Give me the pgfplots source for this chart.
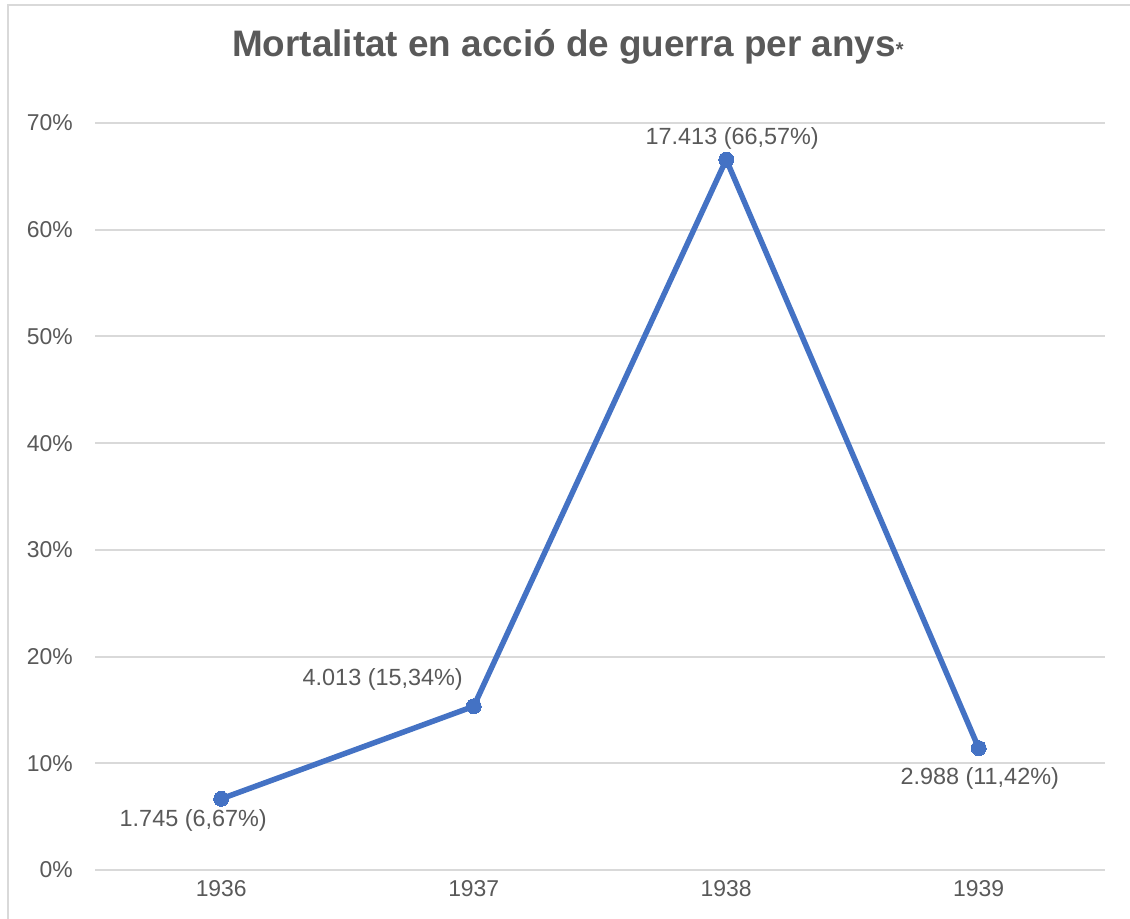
\documentclass[border=0pt]{standalone}
\usepackage{pgfplots}
\pgfplotsset{compat=1.18}
\usepackage{fontspec}
\setmainfont{Liberation Sans}
\definecolor{txt}{HTML}{595959}
\definecolor{grd}{HTML}{D9D9D9}
\definecolor{ln}{HTML}{4472C4}
\begin{document}
\begin{tikzpicture}[x=1bp,y=1bp]
\path[use as bounding box] (0,0) rectangle (1130,919);
\fill[white] (0,0) rectangle (1130,919);
\draw[grd, line width=2bp] (8,0) -- (8,914) -- (1130,914);
\node[text=txt, font=\fontsize{37}{37}\selectfont\bfseries] at (568,872) {Mortalitat en acció de guerra per anys{\fontsize{20}{20}\selectfont *}};
\begin{axis}[
  at={(95bp,49bp)}, anchor=south west, scale only axis,
  width=1010bp, height=747bp,
  xmin=-0.5, xmax=3.5, ymin=0, ymax=70,
  xtick={0,1,2,3}, xticklabels={1936,1937,1938,1939},
  ytick={0,10,20,30,40,50,60,70},
  yticklabel={\pgfmathparse{int(\tick)}\pgfmathresult\%},
  axis line style={draw=none},
  major tick length=0pt,
  ymajorgrids, grid style={grd, line width=2bp},
  tick label style={font=\fontsize{23}{23}\selectfont, text=txt, inner sep=0pt},
  y tick label style={anchor=east, xshift=-22bp},
  x tick label style={anchor=north, yshift=-10bp},
  clip=false,
]
\addplot[ln, line width=5.5bp, mark=*, mark size=7.5bp, mark options={fill=ln, draw=ln, line width=0pt}]
  coordinates {(0,6.67) (1,15.34) (2,66.57) (3,11.42)};
\begin{scope}[every node/.style={text=txt, font=\fontsize{23.5}{23.5}\selectfont, inner sep=0pt}]
\node[xshift=-28bp, yshift=-22bp] at (axis cs:0,6.67) {1.745 (6,67\%)};
\node[xshift=-91bp, yshift=27bp] at (axis cs:1,15.34) {4.013 (15,34\%)};
\node[xshift=6bp, yshift=21bp] at (axis cs:2,66.57) {17.413 (66,57\%)};
\node[xshift=1bp, yshift=-30bp] at (axis cs:3,11.42) {2.988 (11,42\%)};
\end{scope}
\end{axis}
\end{tikzpicture}
\end{document}
